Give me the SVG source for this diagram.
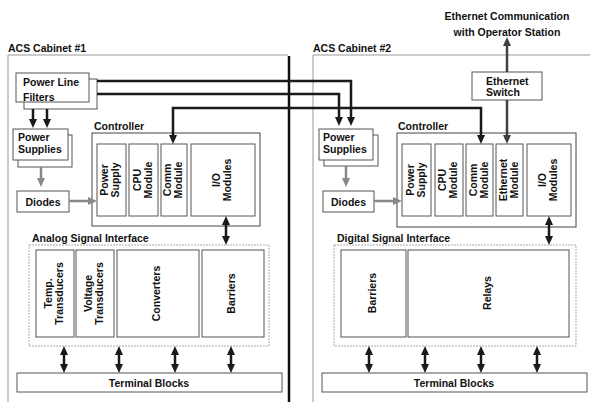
<svg xmlns="http://www.w3.org/2000/svg" width="590" height="402" viewBox="0 0 590 402">
<style>
text{font-family:"Liberation Sans",Arial,sans-serif;font-weight:bold;font-size:10.5px;fill:#111}
.box{fill:#fff;stroke:#555;stroke-width:1}
.ctl{fill:#fff;stroke:#444;stroke-width:1}
.cab{fill:none;stroke:#999;stroke-width:1}
.sig{fill:none;stroke:#aaa;stroke-width:1;stroke-dasharray:2 1}
.blk{fill:none;stroke:#1a1a1a;stroke-width:2.5}
.eth{fill:none;stroke:#404040;stroke-width:2.5}
.gry{fill:none;stroke:#888;stroke-width:2.5}
.mid{text-anchor:middle}
</style>
<defs>
<marker id="ah" viewBox="0 0 9 8" refX="5" refY="4" markerWidth="9" markerHeight="8" markerUnits="userSpaceOnUse" orient="auto-start-reverse"><path d="M0,0 L9,4 L0,8 z" fill="#1a1a1a"/></marker>
<marker id="ahe" viewBox="0 0 9 8" refX="5" refY="4" markerWidth="9" markerHeight="8" markerUnits="userSpaceOnUse" orient="auto-start-reverse"><path d="M0,0 L9,4 L0,8 z" fill="#404040"/></marker>
<marker id="ahg" viewBox="0 0 9 8" refX="5" refY="4" markerWidth="9" markerHeight="8" markerUnits="userSpaceOnUse" orient="auto-start-reverse"><path d="M0,0 L9,4 L0,8 z" fill="#888"/></marker>
</defs>

<g id="cabinet1">
<path class="cab" d="M8,402 V55 H288"/>
<path d="M289,56 V402" stroke="#111" stroke-width="2.5" fill="none"/>
<text x="8" y="52">ACS Cabinet #1</text>
</g>
<g id="cabinet2">
<path class="cab" d="M313,402 V55 H590"/>
<text x="313" y="52">ACS Cabinet #2</text>
</g>

<g id="ethernet-comm">
<text class="mid" x="507" y="20">Ethernet Communication</text>
<text class="mid" x="507" y="36">with Operator Station</text>
</g>

<g id="power-line-filters">
<rect class="box" x="24" y="79" width="73" height="30"/>
<rect class="box" x="16" y="73" width="73" height="29"/>
<text x="23" y="86">Power Line</text>
<text x="23" y="101">Filters</text>
</g>

<g id="ethernet-switch">
<rect class="box" x="472" y="72" width="70" height="28"/>
<text x="486" y="85">Ethernet</text>
<text x="486" y="96">Switch</text>
</g>

<!-- Cabinet 1 -->
<g id="power-supplies-1">
<rect class="box" x="18" y="135" width="54" height="32"/>
<rect class="box" x="13" y="129" width="55" height="31"/>
<text x="18" y="141">Power</text>
<text x="18" y="153">Supplies</text>
</g>
<g id="diodes-1">
<rect class="box" x="17" y="191" width="52" height="21"/>
<text class="mid" x="43" y="206">Diodes</text>
</g>
<g id="controller-1">
<text x="94" y="130">Controller</text>
<rect class="ctl" x="92" y="133" width="168" height="93"/>
<rect class="box" x="97" y="144" width="29" height="72"/>
<text class="mid" transform="translate(110,180) rotate(-90)"><tspan x="0" y="-1.7">Power</tspan><tspan x="0" y="9.3">Supply</tspan></text>
<rect class="box" x="129" y="144" width="29" height="72"/>
<text class="mid" transform="translate(142.5,180) rotate(-90)"><tspan x="0" y="-1.7">CPU</tspan><tspan x="0" y="9.3">Module</tspan></text>
<rect class="box" x="161" y="144" width="26" height="72"/>
<text class="mid" transform="translate(173,180) rotate(-90)"><tspan x="0" y="-1.7">Comm</tspan><tspan x="0" y="9.3">Module</tspan></text>
<rect class="box" x="191" y="144" width="64" height="72"/>
<text class="mid" transform="translate(222,180) rotate(-90)"><tspan x="0" y="-1.7">I/O</tspan><tspan x="0" y="9.3">Modules</tspan></text>
</g>
<g id="analog-interface">
<text x="32" y="242">Analog Signal Interface</text>
<rect class="sig" x="29" y="245" width="240" height="101"/>
<rect class="box" x="36" y="250" width="38" height="87"/>
<text class="mid" transform="translate(53.5,293.5) rotate(-90)"><tspan x="0" y="-1.7">Temp.</tspan><tspan x="0" y="9.3">Transducers</tspan></text>
<rect class="box" x="76" y="250" width="38" height="87"/>
<text class="mid" transform="translate(93.5,293.5) rotate(-90)"><tspan x="0" y="-1.7">Voltage</tspan><tspan x="0" y="9.3">Transducers</tspan></text>
<rect class="box" x="117" y="250" width="82" height="87"/>
<text class="mid" transform="translate(156,293.5) rotate(-90)"><tspan x="0" y="3.8">Converters</tspan></text>
<rect class="box" x="202" y="250" width="62" height="87"/>
<text class="mid" transform="translate(231,293.5) rotate(-90)"><tspan x="0" y="3.8">Barriers</tspan></text>
</g>
<g id="terminal-blocks-1">
<rect class="box" x="17" y="373" width="265" height="19"/>
<text class="mid" x="149" y="387">Terminal Blocks</text>
</g>

<!-- Cabinet 2 -->
<g id="power-supplies-2">
<rect class="box" x="324" y="135" width="54" height="31"/>
<rect class="box" x="319" y="129" width="54" height="31"/>
<text x="323" y="141">Power</text>
<text x="323" y="153">Supplies</text>
</g>
<g id="diodes-2">
<rect class="box" x="323" y="191" width="51" height="21"/>
<text class="mid" x="348.5" y="206">Diodes</text>
</g>
<g id="controller-2">
<text x="398" y="130">Controller</text>
<rect class="ctl" x="397" y="133" width="179" height="94"/>
<rect class="box" x="402" y="144" width="29" height="72"/>
<text class="mid" transform="translate(415.5,180) rotate(-90)"><tspan x="0" y="-1.7">Power</tspan><tspan x="0" y="9.3">Supply</tspan></text>
<rect class="box" x="435" y="144" width="28" height="72"/>
<text class="mid" transform="translate(448,180) rotate(-90)"><tspan x="0" y="-1.7">CPU</tspan><tspan x="0" y="9.3">Module</tspan></text>
<rect class="box" x="466" y="144" width="27" height="72"/>
<text class="mid" transform="translate(478.5,180) rotate(-90)"><tspan x="0" y="-1.7">Comm</tspan><tspan x="0" y="9.3">Module</tspan></text>
<rect class="box" x="496" y="144" width="27" height="72"/>
<text class="mid" transform="translate(508.5,180) rotate(-90)"><tspan x="0" y="-1.7">Ethernet</tspan><tspan x="0" y="9.3">Module</tspan></text>
<rect class="box" x="527" y="144" width="44" height="72"/>
<text class="mid" transform="translate(548,180) rotate(-90)"><tspan x="0" y="-1.7">I/O</tspan><tspan x="0" y="9.3">Modules</tspan></text>
</g>
<g id="digital-interface">
<text x="337" y="242">Digital Signal Interface</text>
<rect class="sig" x="334" y="245" width="242" height="101"/>
<rect class="box" x="341" y="250" width="65" height="87"/>
<text class="mid" transform="translate(372,293) rotate(-90)"><tspan x="0" y="3.8">Barriers</tspan></text>
<rect class="box" x="408" y="250" width="161" height="87"/>
<text class="mid" transform="translate(487,293) rotate(-90)"><tspan x="0" y="3.8">Relays</tspan></text>
</g>
<g id="terminal-blocks-2">
<rect class="box" x="322" y="373" width="265" height="19"/>
<text class="mid" x="454" y="387">Terminal Blocks</text>
</g>

<g id="connectors">
<path class="blk" d="M97,81 H351 V122" marker-end="url(#ah)"/>
<path class="blk" d="M97,94 H339 V122" marker-end="url(#ah)"/>
<path class="blk" d="M173,140 V108 H481 V140" marker-start="url(#ah)" marker-end="url(#ah)"/>
<path class="blk" d="M33,109 V124" marker-end="url(#ah)"/>
<path class="blk" d="M47,109 V124" marker-end="url(#ah)"/>
<path class="gry" d="M41,167 V183" marker-end="url(#ahg)"/>
<path class="gry" d="M69,201 H93" marker-end="url(#ahg)"/>
<path class="gry" d="M346,166 V183" marker-end="url(#ahg)"/>
<path class="gry" d="M374,201 H398" marker-end="url(#ahg)"/>
<path class="eth" d="M507,72 V41" marker-end="url(#ahe)"/>
<path class="eth" d="M507,100 V140" marker-end="url(#ahe)"/>
<path class="blk" d="M226,220 V241" marker-start="url(#ah)" marker-end="url(#ah)"/>
<path class="blk" d="M549,220 V241" marker-start="url(#ah)" marker-end="url(#ah)"/>
<path class="blk" d="M64,350 V369" marker-start="url(#ah)" marker-end="url(#ah)"/>
<path class="blk" d="M119,350 V369" marker-start="url(#ah)" marker-end="url(#ah)"/>
<path class="blk" d="M175,350 V369" marker-start="url(#ah)" marker-end="url(#ah)"/>
<path class="blk" d="M231,350 V369" marker-start="url(#ah)" marker-end="url(#ah)"/>
<path class="blk" d="M369,350 V369" marker-start="url(#ah)" marker-end="url(#ah)"/>
<path class="blk" d="M425,350 V369" marker-start="url(#ah)" marker-end="url(#ah)"/>
<path class="blk" d="M481,350 V369" marker-start="url(#ah)" marker-end="url(#ah)"/>
<path class="blk" d="M537,350 V369" marker-start="url(#ah)" marker-end="url(#ah)"/>
</g>
</svg>
